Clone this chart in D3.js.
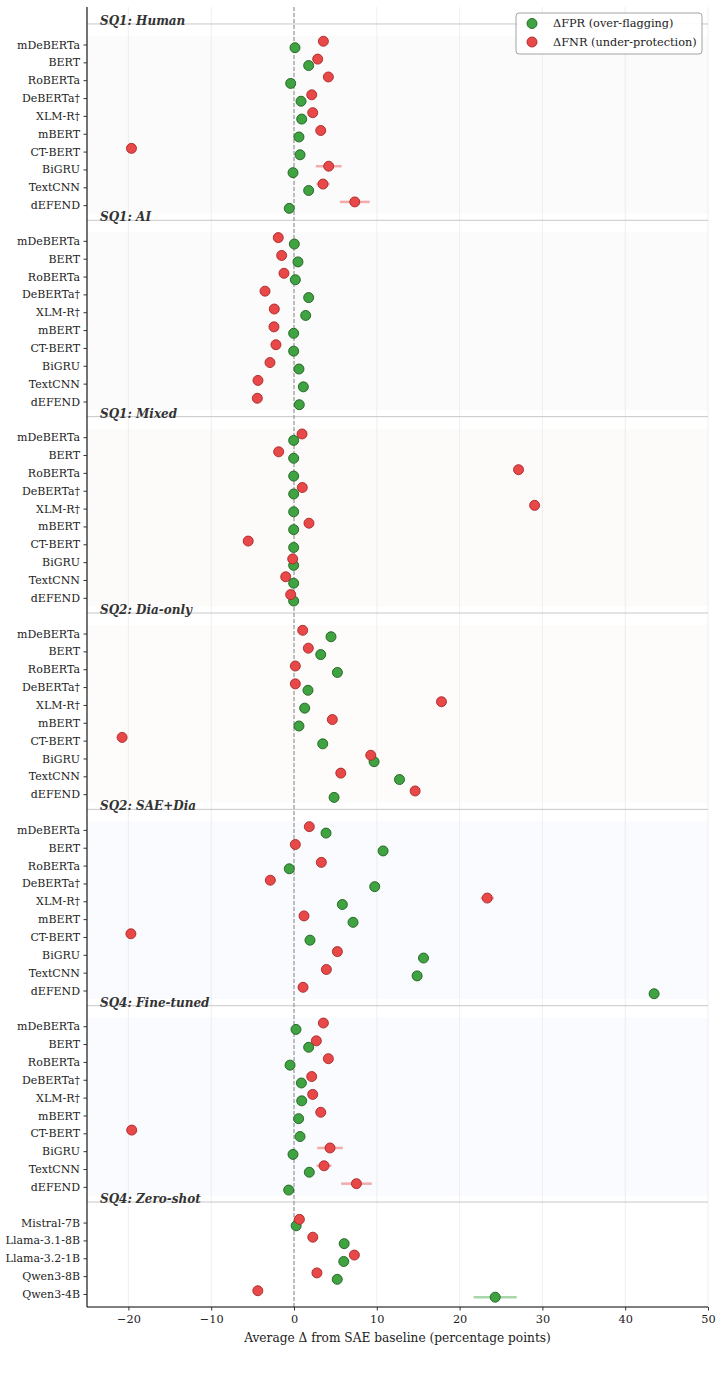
<!DOCTYPE html>
<html>
<head>
<meta charset="utf-8">
<script src="https://cdn.jsdelivr.net/npm/d3@7"></script>
<style>
  body { margin: 0; background: #fff; }
  svg text { font-family: "DejaVu Serif", serif; }
</style>
</head>
<body>
<div id="chart"></div>
<script>
// --- data ---
const encoderModels = ["mDeBERTa", "BERT", "RoBERTa", "DeBERTa†", "XLM-R†", "mBERT", "CT-BERT", "BiGRU", "TextCNN", "dEFEND"];
const llmModels = ["Mistral-7B", "Llama-3.1-8B", "Llama-3.2-1B", "Qwen3-8B", "Qwen3-4B"];

const groupNames = ["SQ1: Human", "SQ1: AI", "SQ1: Mixed", "SQ2: Dia-only", "SQ2: SAE+Dia", "SQ4: Fine-tuned", "SQ4: Zero-shot"];
const groupBands = ["#fbfbfb", "#fbfbfb", "#fcfbfa", "#fdfcfb", "#f9fbfe", "#f9fbfe", "#ffffff"];

// ΔFPR (over-flagging)
const fprHuman    = [0.12, 1.77, -0.4, 0.85, 0.93, 0.6, 0.73, -0.12, 1.77, -0.57];
const fprAI       = [0.04, 0.48, 0.16, 1.77, 1.41, -0.04, -0.04, 0.6, 1.13, 0.64];
const fprMixed    = [-0.04, -0.04, -0.04, -0.04, -0.04, -0.04, -0.04, -0.04, -0.04, -0.04];
const fprDiaOnly  = [4.47, 3.23, 5.24, 1.69, 1.29, 0.6, 3.47, 9.67, 12.74, 4.84];
const fprSaeDia   = [3.87, 10.76, -0.57, 9.75, 5.84, 7.13, 1.93, 15.64, 14.87, 43.49];
const fprFineTune = [0.24, 1.77, -0.48, 0.89, 0.93, 0.56, 0.73, -0.12, 1.85, -0.64];
const fprZeroShot = [0.26, 6.06, 6.01, 5.22, 24.3];

// ΔFNR (under-protection)
const fnrHuman    = [3.55, 2.86, 4.15, 2.14, 2.26, 3.23, -19.63, 4.19, 3.5, 7.34];
const fnrAI       = [-1.9, -1.49, -1.21, -3.5, -2.38, -2.42, -2.18, -2.9, -4.35, -4.43];
const fnrMixed    = [0.97, -1.85, 27.12, 1.0, 29.06, 1.81, -5.53, -0.16, -1.0, -0.4];
const fnrDiaOnly  = [1.05, 1.73, 0.16, 0.16, 17.81, 4.63, -20.76, 9.27, 5.65, 14.63];
const fnrSaeDia   = [1.85, 0.16, 3.3, -2.86, 23.34, 1.21, -19.7, 5.24, 3.91, 1.09];
const fnrFineTune = [3.55, 2.7, 4.15, 2.14, 2.26, 3.23, -19.6, 4.35, 3.63, 7.54];
const fnrZeroShot = [0.65, 2.27, 7.29, 2.77, -4.37];

// error half-widths (std over runs)
const fprErrHuman    = [0, 0, 0, 0, 0, 0, 0, 0, 0, 0];
const fprErrDiaOnly  = [0, 0, 0, 0, 0, 0, 0, 0, 0.4, 0];
const fprErrSaeDia   = [0, 0, 0, 0.5, 0, 0, 0, 0, 0.5, 0.5];
const fprErrZeroShot = [0, 0, 0, 0, 2.6];
const fnrErrHuman    = [0, 0, 0, 0, 0, 0, 0, 1.55, 0.8, 1.8];
const fnrErrMixed    = [0, 0, 0.3, 0, 0, 0, 0, 0, 0, 0];
const fnrErrSaeDia   = [0, 0, 0, 0.6, 0.8, 0, 0, 0, 0, 0];
const fnrErrFineTune = [0, 0, 0, 0, 0, 0, 0, 1.55, 0.9, 1.85];
const fnrErrZeroShot = [0, 0, 0, 0, 0.5];

const zeros10 = encoderModels.map(() => 0);
const xTicks = [-20, -10, 0, 10, 20, 30, 40, 50];

const groups = [
  { models: encoderModels, fpr: fprHuman, fnr: fnrHuman, fprErr: fprErrHuman, fnrErr: fnrErrHuman },
  { models: encoderModels, fpr: fprAI, fnr: fnrAI, fprErr: zeros10, fnrErr: zeros10 },
  { models: encoderModels, fpr: fprMixed, fnr: fnrMixed, fprErr: zeros10, fnrErr: fnrErrMixed },
  { models: encoderModels, fpr: fprDiaOnly, fnr: fnrDiaOnly, fprErr: fprErrDiaOnly, fnrErr: zeros10 },
  { models: encoderModels, fpr: fprSaeDia, fnr: fnrSaeDia, fprErr: fprErrSaeDia, fnrErr: fnrErrSaeDia },
  { models: encoderModels, fpr: fprFineTune, fnr: fnrFineTune, fprErr: zeros10, fnrErr: fnrErrFineTune },
  { models: llmModels, fpr: fprZeroShot, fnr: fnrZeroShot, fprErr: fprErrZeroShot, fnrErr: fnrErrZeroShot }
];
groups.forEach((g, i) => { g.name = groupNames[i]; g.band = groupBands[i]; g.start = i * 11; });

// flatten into rows
const rows = [];
groups.forEach(g => g.models.forEach((m, j) => rows.push({
  model: m, pos: g.start + j,
  fpr: g.fpr[j], fnr: g.fnr[j], fprErr: g.fprErr[j], fnrErr: g.fnrErr[j]
})));

// --- layout ---
const width = 721, height = 1378;
const margin = { left: 87, right: 13, top: 7, bottom: 71 };

const svg = d3.select("#chart").append("svg")
    .attr("width", width)
    .attr("height", height);

const x = d3.scaleLinear().domain([-25, 50]).range([margin.left, width - margin.right]);
const y = d3.scaleLinear().domain([-2.1, 70.73]).range([margin.top, height - margin.bottom]);
const off = 0.18; // vertical offset of the two markers

const green = "#3fa342", greenEdge = "#1f5f1f";
const red = "#e84848", redEdge = "#a82828";

// Bands
svg.append("g").selectAll("rect")
    .data(groups)
    .join("rect")
    .attr("x", x(-25))
    .attr("width", x(50) - x(-25))
    .attr("y", d => y(d.start - 0.48))
    .attr("height", d => y(d.start + d.models.length - 1 + 0.48) - y(d.start - 0.48))
    .attr("fill", d => d.band);

// Vertical grid
svg.append("g").selectAll("line")
    .data(xTicks)
    .join("line")
    .attr("x1", d => x(d)).attr("x2", d => x(d))
    .attr("y1", y.range()[0]).attr("y2", y.range()[1])
    .attr("stroke", "#e6e6e6")
    .attr("stroke-width", 0.8)
    .attr("stroke-opacity", 0.8);

// Group separators + headers
svg.append("g").selectAll("line")
    .data(groups)
    .join("line")
    .attr("x1", x(-25)).attr("x2", x(50))
    .attr("y1", d => y(d.start - 1.15)).attr("y2", d => y(d.start - 1.15))
    .attr("stroke", "#c8c8c8")
    .attr("stroke-width", 1);

svg.append("g").selectAll("text")
    .data(groups)
    .join("text")
    .attr("x", 100)
    .attr("y", d => y(d.start - 1.15) + 1)
    .attr("font-size", "12px")
    .attr("font-weight", "bold")
    .attr("font-style", "italic")
    .attr("fill", "#333")
    .text(d => d.name);

// Zero line
svg.append("line")
    .attr("x1", x(0)).attr("x2", x(0))
    .attr("y1", y.range()[0]).attr("y2", y.range()[1])
    .attr("stroke", "#888")
    .attr("stroke-width", 1)
    .attr("stroke-dasharray", "4,2");

// Error bars
const gErr = svg.append("g");
gErr.selectAll("line.fpr")
    .data(rows.filter(d => d.fprErr > 0))
    .join("line")
    .attr("class", "fpr")
    .attr("x1", d => x(d.fpr - d.fprErr)).attr("x2", d => x(d.fpr + d.fprErr))
    .attr("y1", d => y(d.pos + off)).attr("y2", d => y(d.pos + off))
    .attr("stroke", green).attr("stroke-opacity", 0.45).attr("stroke-width", 2.5);
gErr.selectAll("line.fnr")
    .data(rows.filter(d => d.fnrErr > 0))
    .join("line")
    .attr("class", "fnr")
    .attr("x1", d => x(d.fnr - d.fnrErr)).attr("x2", d => x(d.fnr + d.fnrErr))
    .attr("y1", d => y(d.pos - off)).attr("y2", d => y(d.pos - off))
    .attr("stroke", red).attr("stroke-opacity", 0.45).attr("stroke-width", 2.5);

// Points
const gPts = svg.append("g");
gPts.selectAll("circle.fpr")
    .data(rows)
    .join("circle")
    .attr("class", "fpr")
    .attr("cx", d => x(d.fpr))
    .attr("cy", d => y(d.pos + off))
    .attr("r", 5)
    .attr("fill", green)
    .attr("stroke", greenEdge)
    .attr("stroke-width", 0.9);
gPts.selectAll("circle.fnr")
    .data(rows)
    .join("circle")
    .attr("class", "fnr")
    .attr("cx", d => x(d.fnr))
    .attr("cy", d => y(d.pos - off))
    .attr("r", 5)
    .attr("fill", red)
    .attr("stroke", redEdge)
    .attr("stroke-width", 0.9);

// Axes
const yAxis = d3.axisLeft(y)
    .tickValues(rows.map(d => d.pos))
    .tickFormat((d, i) => rows[i].model)
    .tickSize(3.5)
    .tickPadding(3.5);
const gy = svg.append("g")
    .attr("transform", `translate(${margin.left},0)`)
    .call(yAxis);
gy.select(".domain").attr("stroke", "#000").attr("stroke-width", 1.1).attr("d", `M-0,${y.range()[0]}V${y.range()[1]}`);
gy.selectAll(".tick line").attr("stroke", "#333");
gy.selectAll(".tick text")
    .attr("font-size", "11px")
    .attr("fill", "#222");

const xAxis = d3.axisBottom(x)
    .tickValues(xTicks)
    .tickFormat(d => d < 0 ? "\u2212" + Math.abs(d) : d)
    .tickSize(3.5)
    .tickPadding(4);
const gx = svg.append("g")
    .attr("transform", `translate(0,${y.range()[1]})`)
    .call(xAxis);
gx.select(".domain").attr("stroke", "#000").attr("stroke-width", 1.1).attr("d", `M${x.range()[0]},0H${x.range()[1]}`);
gx.selectAll(".tick line").attr("stroke", "#333");
gx.selectAll(".tick text")
    .attr("font-size", "11.3px")
    .attr("fill", "#222");

svg.append("text")
    .attr("x", (x.range()[0] + x.range()[1]) / 2)
    .attr("y", y.range()[1] + 35)
    .attr("text-anchor", "middle")
    .attr("font-size", "12.2px")
    .attr("fill", "#222")
    .text("Average \u0394 from SAE baseline (percentage points)");

// Legend
const legend = svg.append("g").attr("transform", "translate(516,13)");
legend.append("rect")
    .attr("width", 186).attr("height", 41)
    .attr("rx", 3)
    .attr("fill", "#fff").attr("fill-opacity", 0.9)
    .attr("stroke", "#999").attr("stroke-width", 0.9);
const legendItems = [
  { label: "\u0394FPR (over-flagging)", fill: green, edge: greenEdge },
  { label: "\u0394FNR (under-protection)", fill: red, edge: redEdge }
];
const li = legend.selectAll("g.item")
    .data(legendItems)
    .join("g")
    .attr("class", "item")
    .attr("transform", (d, i) => `translate(0,${10.5 + i * 18.5})`);
li.append("circle")
    .attr("cx", 16).attr("cy", 0).attr("r", 5)
    .attr("fill", d => d.fill).attr("stroke", d => d.edge).attr("stroke-width", 0.9);
li.append("text")
    .attr("x", 37).attr("y", 0).attr("dy", "0.35em")
    .attr("font-size", "11.3px")
    .attr("fill", "#222")
    .text(d => d.label);
</script>
</body>
</html>
